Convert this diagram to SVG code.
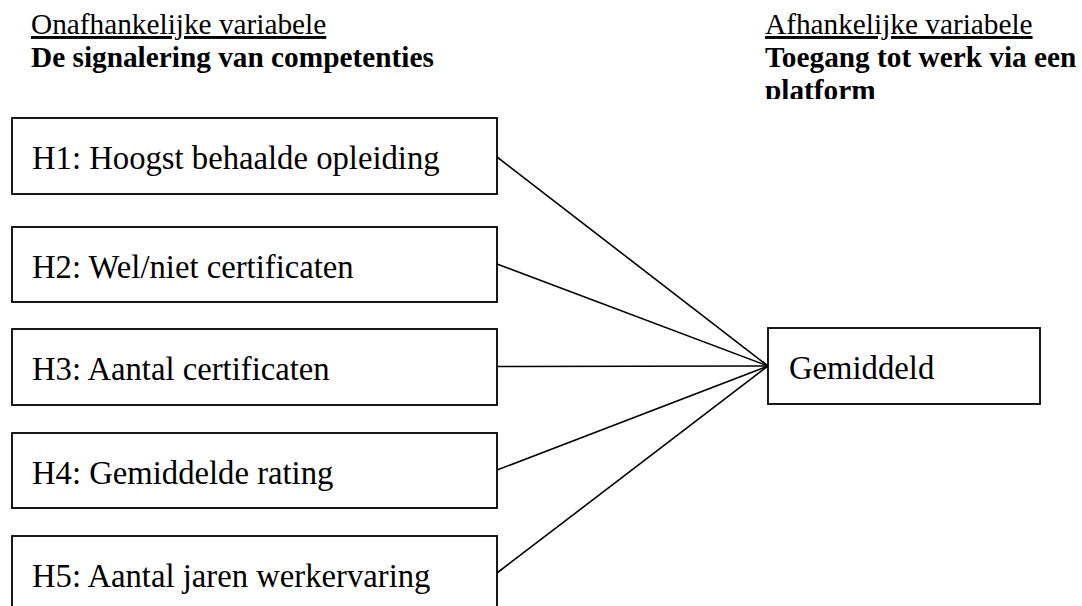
<svg xmlns="http://www.w3.org/2000/svg" width="1082" height="606" viewBox="0 0 1082 606">
<style>
.hdr{font-family:"Liberation Serif","Times New Roman",serif;font-size:29.3px;fill:#000}
.u{text-decoration:underline}
.b{font-weight:bold}
.box{fill:#fff;stroke:#000;stroke-width:1.8}
.lbl{font-family:"Liberation Serif","Times New Roman",serif;font-size:32.7px;fill:#000}
.con{stroke:#000;stroke-width:1.6;fill:none}
</style>
<defs>
<clipPath id="hclip"><rect x="0" y="0" width="1082" height="99"/></clipPath>
</defs>
<rect x="0" y="0" width="1082" height="606" fill="#fff"/>
<g id="header-left">
<text class="hdr u" x="31" y="34">Onafhankelijke variabele</text>
<text class="hdr b" x="31" y="67">De signalering van competenties</text>
</g>
<g id="header-right" clip-path="url(#hclip)">
<text class="hdr u" x="765" y="34">Afhankelijke variabele</text>
<text class="hdr b" x="765" y="67">Toegang tot werk via een</text>
<text class="hdr b" x="765" y="100">platform</text>
</g>
<g id="connectors">
<line class="con" x1="497" y1="157" x2="768" y2="366"/>
<line class="con" x1="497" y1="264" x2="768" y2="366"/>
<line class="con" x1="497" y1="366.5" x2="768" y2="366"/>
<line class="con" x1="497" y1="470" x2="768" y2="366"/>
<line class="con" x1="497" y1="573" x2="768" y2="366"/>
</g>
<g id="h1">
<rect class="box" x="12" y="118" width="485" height="76"/>
<text class="lbl" x="32" y="169">H1: Hoogst behaalde opleiding</text>
</g>
<g id="h2">
<rect class="box" x="12" y="227" width="485" height="75"/>
<text class="lbl" x="32" y="278">H2: Wel/niet certificaten</text>
</g>
<g id="h3">
<rect class="box" x="12" y="329" width="485" height="76"/>
<text class="lbl" x="32" y="380">H3: Aantal certificaten</text>
</g>
<g id="h4">
<rect class="box" x="12" y="433" width="485" height="75"/>
<text class="lbl" x="32" y="484">H4: Gemiddelde rating</text>
</g>
<g id="h5">
<rect class="box" x="12" y="536" width="485" height="80"/>
<text class="lbl" x="32" y="587">H5: Aantal jaren werkervaring</text>
</g>
<g id="gemiddeld">
<rect class="box" x="768" y="328" width="272" height="76"/>
<text class="lbl" x="789" y="379">Gemiddeld</text>
</g>
</svg>
